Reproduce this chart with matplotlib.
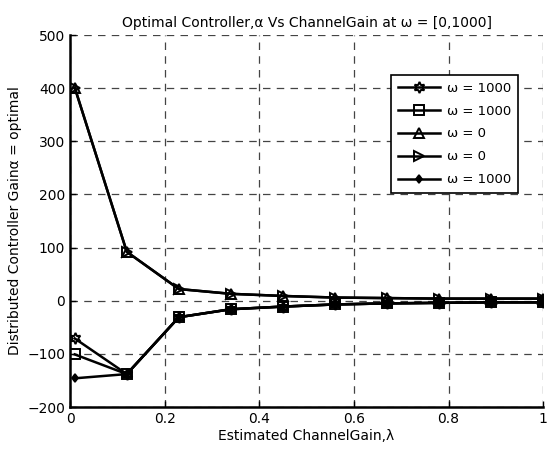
import matplotlib
matplotlib.use('Agg')
import matplotlib.pyplot as plt

lam = [0.01, 0.12, 0.23, 0.34, 0.45, 0.56, 0.67, 0.78, 0.89, 1.0]

# omega = 1000 branches (lower)
hexa_w1000 = [-71, -138, -31, -16, -11, -7, -5, -4, -3, -3]
square_w1000 = [-101, -138, -31, -16, -11, -7, -5, -4, -3, -3]
dot_w1000 = [-146, -138, -31, -16, -11, -7, -5, -4, -3, -3]
# omega = 0 branches (upper)
triup_w0 = [401, 92, 22, 13, 9, 6, 5, 4, 4, 4]
triright_w0 = [401, 92, 22, 13, 9, 6, 5, 4, 4, 4]

labels = ['ω = 1000', 'ω = 1000', 'ω = 0', 'ω = 0', 'ω = 1000']

plt.rcParams['font.family'] = ['DejaVu Sans']
fig = plt.figure(figsize=(5.47, 4.49), dpi=100)
ax = fig.add_axes([0.128, 0.0935, 0.865, 0.8285])

ax.plot(lam, hexa_w1000, color='black', lw=1.8, marker=(6, 1, 0), ms=8, mfc='none', mew=1.4, label=labels[0])
ax.plot(lam, square_w1000, color='black', lw=1.8, marker='s', ms=6.5, mfc='none', mew=1.4, label=labels[1])
ax.plot(lam, triup_w0, color='black', lw=1.8, marker='^', ms=7.5, mfc='none', mew=1.4, label=labels[2])
ax.plot(lam, triright_w0, color='black', lw=1.8, marker='>', ms=7.5, mfc='none', mew=1.4, label=labels[3])
ax.plot(lam, dot_w1000, color='black', lw=1.8, marker='d', ms=4.5, mfc='black', mew=1.2, label=labels[4])

ax.set_xlim(0, 1)
ax.set_ylim(-200, 500)
ax.set_xticks([0, 0.2, 0.4, 0.6, 0.8, 1])
ax.set_xticklabels(['0', '0.2', '0.4', '0.6', '0.8', '1'])
ax.set_yticks(range(-200, 501, 100))
ax.tick_params(direction='in', labelsize=10, length=4, width=1)
ax.grid(True, linestyle=(0, (6, 5)), color='#444444', lw=0.9)
ax.spines['top'].set_visible(False)
ax.spines['right'].set_visible(False)
ax.spines['left'].set_linewidth(1.8)
ax.spines['bottom'].set_linewidth(1.8)

ax.set_title('Optimal Controller,α Vs ChannelGain at ω = [0,1000]', fontsize=10, pad=6)
ax.set_xlabel('Estimated ChannelGain,λ', fontsize=10, labelpad=2)
ax.set_ylabel('Distributed Controller Gainα = optimal', fontsize=10, labelpad=4)

leg = ax.legend(loc='upper right', bbox_to_anchor=(0.96, 0.91), fontsize=9.5,
                frameon=True, fancybox=False, edgecolor='black', framealpha=1,
                handlelength=3.2, handletextpad=0.5, borderpad=0.5, labelspacing=0.75)
leg.get_frame().set_linewidth(1.2)

fig.savefig('out.png', dpi=100)
